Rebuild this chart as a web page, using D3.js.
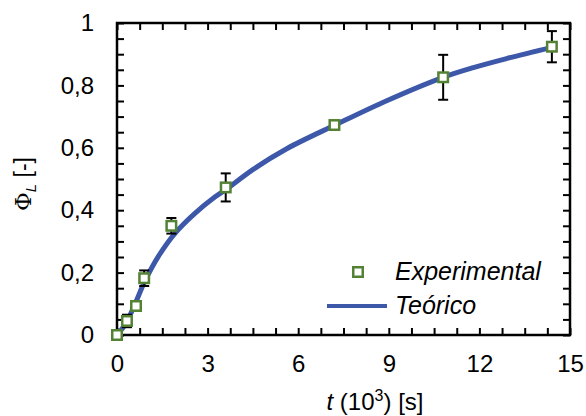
<!DOCTYPE html>
<html>
<head>
<meta charset="utf-8">
<script src="https://cdn.jsdelivr.net/npm/d3@7"></script>
<style>
  body { margin: 0; background: #fff; }
  svg { display: block; font-family: "Liberation Sans", Arial, sans-serif; }
  .axis path, .axis line { stroke: #000; }
</style>
</head>
<body>
<div id="chart"></div>
<script>
// experimental points (t in 10^3 s)
const timeExp = [0, 0.33, 0.63, 0.9, 1.8, 3.6, 7.2, 10.8, 14.4];
const phiExp = [0, 0.045, 0.093, 0.182, 0.35, 0.473, 0.673, 0.826, 0.924];
const phiErr = [0, 0.02, 0, 0.025, 0.025, 0.045, 0, 0.072, 0.05];

// theoretical curve
const timeTeo = [0, 0.3, 0.6, 0.93, 1.37, 1.92, 2.58, 3.25, 3.63, 4.51, 5.62, 7.22, 8.93, 10.8, 11.8, 12.9, 14.4];
const phiTeo = [0, 0.038, 0.1, 0.174, 0.252, 0.326, 0.39, 0.443, 0.468, 0.531, 0.597, 0.673, 0.751, 0.826, 0.857, 0.886, 0.922];

const xTicks = [0, 3, 6, 9, 12, 15];
const xTickLabels = ["0", "3", "6", "9", "12", "15"];
const yTicks = [0, 0.2, 0.4, 0.6, 0.8, 1];
const yTickLabels = ["0", "0,2", "0,4", "0,6", "0,8", "1"];
const legendLabels = ["Experimental", "Teórico"];

const W = 586, H = 416;
const margin = { top: 23, right: 16, bottom: 81, left: 117 };
const width = W - margin.left - margin.right;
const height = H - margin.top - margin.bottom;

const lineColor = "#3d58a8";
const markerColor = "#548235";

const svg = d3.select("#chart").append("svg")
  .attr("width", W).attr("height", H);

const g = svg.append("g")
  .attr("transform", `translate(${margin.left},${margin.top})`);

const x = d3.scaleLinear().domain([0, 15]).range([0, width]);
const y = d3.scaleLinear().domain([0, 1]).range([height, 0]);

const xMinor = d3.range(0, 15.001, 0.75);
const yMinor = d3.range(0, 1.0001, 0.05);

// tick marks pointing inward on all four sides
function ticks(axis, sel) {
  sel.call(axis);
  sel.select(".domain").remove();
  sel.selectAll("line").attr("stroke", "#000").attr("stroke-width", 2);
}
g.append("g").attr("class", "axis").attr("transform", `translate(0,${height})`)
  .call(s => ticks(d3.axisTop(x).tickValues(xMinor).tickSize(7).tickFormat(""), s));
g.append("g").attr("class", "axis")
  .call(s => ticks(d3.axisBottom(x).tickValues(xMinor).tickSize(7).tickFormat(""), s));
g.append("g").attr("class", "axis")
  .call(s => ticks(d3.axisRight(y).tickValues(yMinor).tickSize(7).tickFormat(""), s));
g.append("g").attr("class", "axis").attr("transform", `translate(${width},0)`)
  .call(s => ticks(d3.axisLeft(y).tickValues(yMinor).tickSize(7).tickFormat(""), s));

// frame
g.append("rect")
  .attr("x", 0).attr("y", 0).attr("width", width).attr("height", height)
  .attr("fill", "none").attr("stroke", "#000").attr("stroke-width", 2.5);

// tick labels
const xl = g.append("g").attr("transform", `translate(0,${height})`)
  .call(d3.axisBottom(x).tickValues(xTicks).tickSize(0).tickPadding(20)
    .tickFormat((d, i) => xTickLabels[i]));
xl.select(".domain").remove();
xl.selectAll("text").attr("font-size", 24).attr("fill", "#000")
  .attr("font-family", "Liberation Sans, Arial, sans-serif");

const yl = g.append("g")
  .call(d3.axisLeft(y).tickValues(yTicks).tickSize(0).tickPadding(23)
    .tickFormat((d, i) => yTickLabels[i]));
yl.select(".domain").remove();
yl.selectAll("text").attr("font-size", 24).attr("fill", "#000")
  .attr("font-family", "Liberation Sans, Arial, sans-serif");

// theoretical curve
const line = d3.line()
  .x((d, i) => x(timeTeo[i]))
  .y((d, i) => y(phiTeo[i]))
  .curve(d3.curveCatmullRom.alpha(0.5));
g.append("path").datum(phiTeo)
  .attr("fill", "none").attr("stroke", lineColor).attr("stroke-width", 5)
  .attr("d", line);

// error bars
const pts = timeExp.map((t, i) => ({ t, v: phiExp[i], e: phiErr[i] }));
const eb = g.append("g").selectAll("g").data(pts.filter(d => d.e > 0)).join("g")
  .attr("stroke", "#000").attr("stroke-width", 2);
eb.append("line")
  .attr("x1", d => x(d.t)).attr("x2", d => x(d.t))
  .attr("y1", d => y(d.v - d.e)).attr("y2", d => y(d.v + d.e));
eb.append("line")
  .attr("x1", d => x(d.t) - 5).attr("x2", d => x(d.t) + 5)
  .attr("y1", d => y(d.v + d.e)).attr("y2", d => y(d.v + d.e));
eb.append("line")
  .attr("x1", d => x(d.t) - 5).attr("x2", d => x(d.t) + 5)
  .attr("y1", d => y(d.v - d.e)).attr("y2", d => y(d.v - d.e));

// markers
const ms = 9.5;
g.append("g").selectAll("rect").data(pts).join("rect")
  .attr("x", d => x(d.t) - ms / 2).attr("y", d => y(d.v) - ms / 2)
  .attr("width", ms).attr("height", ms)
  .attr("fill", "#fff").attr("stroke", markerColor).attr("stroke-width", 2.5);

// legend
const leg = svg.append("g");
leg.append("rect")
  .attr("x", 358 - ms / 2).attr("y", 272 - ms / 2).attr("width", ms).attr("height", ms)
  .attr("fill", "#fff").attr("stroke", markerColor).attr("stroke-width", 2.5);
leg.append("line")
  .attr("x1", 327).attr("x2", 387).attr("y1", 306).attr("y2", 306)
  .attr("stroke", lineColor).attr("stroke-width", 4);
leg.selectAll("text").data(legendLabels).join("text")
  .attr("x", 395).attr("y", (d, i) => 280 + i * 34)
  .attr("font-size", 25).attr("font-style", "italic").attr("fill", "#000")
  .text(d => d);

// axis titles
const xt = svg.append("text")
  .attr("x", 375).attr("y", 410).attr("text-anchor", "middle")
  .attr("font-size", 24).attr("fill", "#000");
xt.append("tspan").attr("font-style", "italic").text("t");
xt.append("tspan").text(" (10");
xt.append("tspan").attr("font-size", 16).attr("dy", -9).text("3");
xt.append("tspan").attr("dy", 9).text(") [s]");

const yt = svg.append("text")
  .attr("transform", "translate(31,184) rotate(-90)")
  .attr("text-anchor", "middle").attr("font-size", 23).attr("fill", "#000");
yt.append("tspan").attr("font-family", "DejaVu Serif, serif").text("Φ");
yt.append("tspan").attr("font-size", 15).attr("font-style", "italic").attr("dy", 5).text("L");
yt.append("tspan").attr("dy", -5).text(" [-]");
</script>
</body>
</html>
